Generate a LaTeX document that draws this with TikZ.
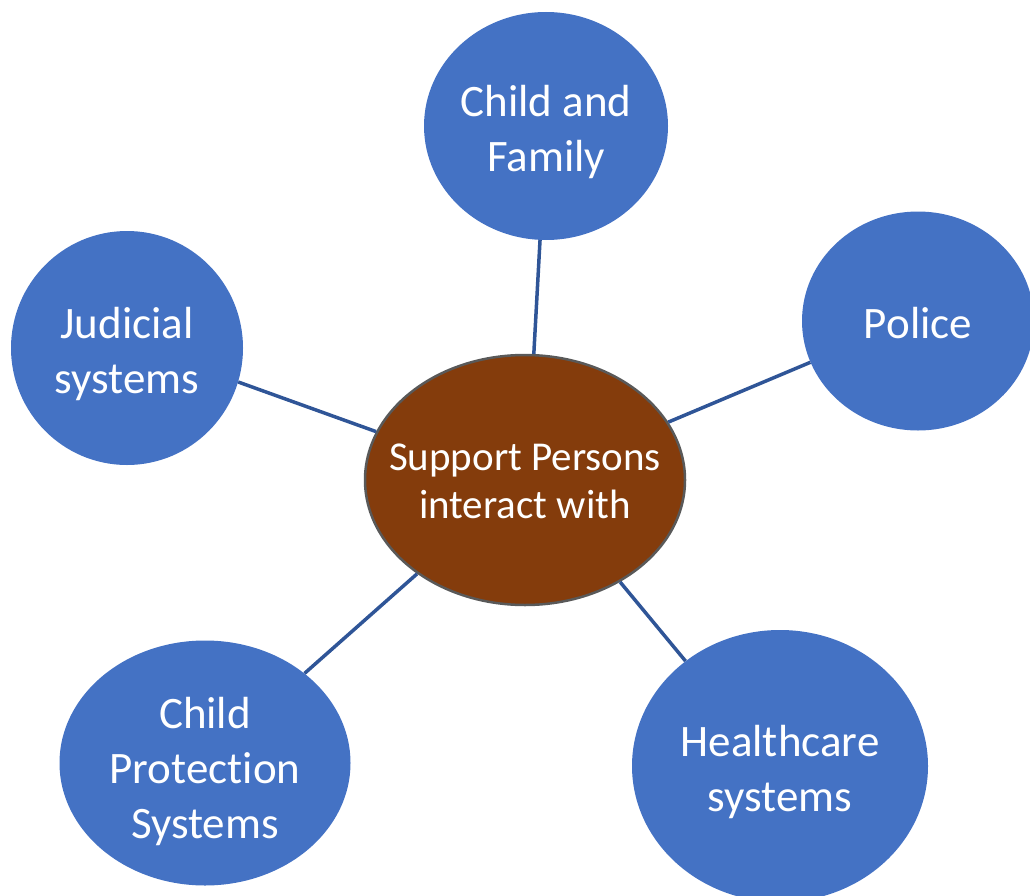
\documentclass[tikz,border=0pt]{standalone}
\usepackage{fontspec}
\setmainfont[Ligatures={NoCommon}]{Carlito}
\usetikzlibrary{shapes.geometric}
\definecolor{bluefill}{HTML}{4472C4}
\definecolor{brownfill}{HTML}{843C0C}
\definecolor{rimgray}{HTML}{595959}
\definecolor{linkblue}{HTML}{2F5597}
\tikzset{
  outer/.style={ellipse, fill=bluefill, draw=none, inner sep=0pt},
  outertext/.style={text=white, align=center, inner sep=0pt, yshift=-6pt,
    font=\fontsize{45}{55}\selectfont},
  hub/.style={ellipse, fill=brownfill, draw=rimgray, line width=2.5pt, inner sep=0pt,
    minimum width=320pt, minimum height=250pt},
  hubtext/.style={text=white, align=center, inner sep=0pt, yshift=-1pt,
    font=\fontsize{41}{48}\selectfont},
  link/.style={draw=linkblue, line width=3.5pt}
}
\begin{document}
\begin{tikzpicture}[x=1pt,y=-1pt]
\useasboundingbox (0,0) rectangle (1030,896);
\begin{scope}
\clip (0,0) rectangle (1030,896);
\node[hub, label={[hubtext]center:Support Persons\\interact with}] (c) at (525,480) {};
\node[outer, minimum width=244pt, minimum height=228pt,
  label={[outertext]center:Child and\\Family}] (cf) at (546,126) {};
\node[outer, minimum width=232pt, minimum height=219pt,
  label={[outertext, yshift=4pt]center:Police}] (po) at (918,321) {};
\node[outer, minimum width=232pt, minimum height=234pt,
  label={[outertext]center:Judicial\\systems}] (ju) at (127,348) {};
\node[outer, minimum width=291pt, minimum height=245pt,
  label={[outertext, yshift=-2pt]center:Child\\Protection\\Systems}] (cp) at (205,763) {};
\node[outer, minimum width=296pt, minimum height=272pt,
  label={[outertext]center:Healthcare\\systems}] (hc) at (780,766) {};
\draw[link] (c.86.5) -- (cf.267);
\draw[link] (c.162) -- (ju.343);
\draw[link] (c.22.8) -- (po.201);
\draw[link] (c.221) -- (cp.42);
\draw[link] (c.313) -- (hc.132);
\end{scope}
\end{tikzpicture}
\end{document}
